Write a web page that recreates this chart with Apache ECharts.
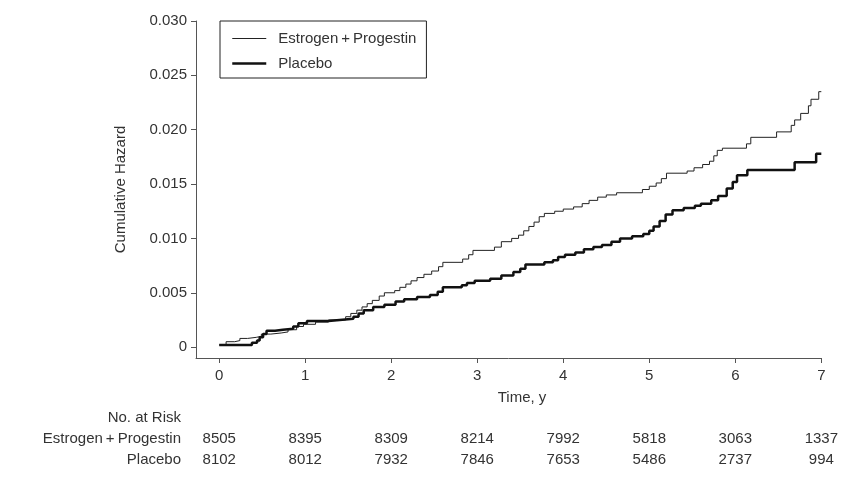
<!DOCTYPE html>
<html><head><meta charset="utf-8">
<script src="https://cdn.jsdelivr.net/npm/echarts@6/dist/echarts.min.js"></script>
<style>html,body{margin:0;padding:0;background:#fff}#c{width:841px;height:489px}</style>
</head><body><div id="c"></div>
<script>
const seriesNames = ['Estrogen\u2009+\u2009Progestin', 'Placebo'];
const timeTicks = [0, 1, 2, 3, 4, 5, 6, 7];
const hazardTicks = [0, 0.005, 0.010, 0.015, 0.020, 0.025, 0.030];
const riskEP = [8505, 8395, 8309, 8214, 7992, 5818, 3063, 1337];
const riskPlacebo = [8102, 8012, 7932, 7846, 7653, 5486, 2737, 994];

const epTime = [0,0.08,0.18,0.24,0.33,0.43,0.49,0.60,0.72,0.80,0.90,0.98,1.12,1.27,1.47,1.53,1.60,1.66,1.72,1.78,1.86,1.92,2.04,2.10,2.17,2.23,2.30,2.38,2.47,2.55,2.60,2.83,2.90,2.95,3.20,3.28,3.40,3.48,3.54,3.60,3.66,3.72,3.78,3.90,4.00,4.12,4.22,4.30,4.40,4.50,4.62,4.92,5.00,5.08,5.14,5.20,5.44,5.52,5.62,5.70,5.75,5.79,5.85,6.13,6.18,6.48,6.65,6.69,6.76,6.85,6.88,6.97,7.00];
const epHazard = [0.0002,0.0005,0.0006,0.0008,0.0009,0.0010,0.0012,0.0013,0.0014,0.0016,0.0019,0.0021,0.0023,0.0025,0.0028,0.0031,0.0034,0.0037,0.0040,0.0043,0.0047,0.0050,0.0052,0.0055,0.0058,0.0061,0.0064,0.0067,0.0070,0.0074,0.0078,0.0081,0.0085,0.0089,0.0092,0.0097,0.0100,0.0103,0.0107,0.0111,0.0115,0.0120,0.0123,0.0125,0.0127,0.0129,0.0132,0.0135,0.0138,0.0140,0.0142,0.0145,0.0148,0.0151,0.0155,0.0160,0.0162,0.0165,0.0168,0.0171,0.0176,0.0181,0.0183,0.0187,0.0193,0.0198,0.0204,0.0209,0.0215,0.0222,0.0228,0.0235,0.0235];

const plTime = [0,0.38,0.44,0.47,0.51,0.55,0.65,0.74,0.86,0.92,1.02,1.27,1.40,1.56,1.62,1.68,1.79,1.92,2.05,2.15,2.30,2.45,2.54,2.60,2.82,2.88,2.97,3.15,3.28,3.42,3.50,3.56,3.78,3.88,3.94,4.02,4.14,4.24,4.35,4.45,4.56,4.66,4.80,4.93,5.00,5.05,5.12,5.19,5.27,5.40,5.53,5.60,5.72,5.80,5.90,5.97,6.02,6.14,6.69,6.94,7.00];
const plHazard = [0.0002,0.0004,0.0006,0.0009,0.0012,0.0015,0.0016,0.0017,0.0019,0.0022,0.0024,0.0025,0.0026,0.0028,0.0031,0.0034,0.0037,0.0039,0.0042,0.0044,0.0046,0.0048,0.0051,0.0055,0.0057,0.0059,0.0061,0.0063,0.0066,0.0069,0.0072,0.0076,0.0078,0.0080,0.0083,0.0085,0.0087,0.0090,0.0092,0.0094,0.0097,0.0100,0.0102,0.0104,0.0107,0.0111,0.0116,0.0122,0.0126,0.0128,0.0130,0.0132,0.0135,0.0139,0.0146,0.0152,0.0158,0.0163,0.0170,0.0178,0.0178];

const FONT = "'Liberation Sans', Arial, sans-serif";
const TXT = '#333';
const AX = '#555';
const FS = 15;

function zip(a, b) { return a.map((t, i) => [t, b[i]]); }
function riskAxis(values, margin) {
  return {
    type: 'value', gridIndex: 0, position: 'bottom', min: -0.27, max: 7,
    axisLine: { show: false }, axisTick: { show: false }, splitLine: { show: false },
    axisLabel: {
      show: true, margin: margin, color: TXT, fontFamily: FONT, fontSize: FS,
      customValues: timeTicks,
      formatter: v => { const i = timeTicks.indexOf(Math.round(v)); return i < 0 ? '' : String(values[i]); }
    }
  };
}

const chart = echarts.init(document.getElementById('c'), null, { renderer: 'canvas' });
chart.setOption({
  animation: false,
  backgroundColor: '#fff',
  textStyle: { fontFamily: FONT, color: TXT },
  grid: { left: 196, right: 19, top: 21, bottom: 131, containLabel: false },
  legend: {
    orient: 'vertical', left: 220, top: 21,
    data: [
      { name: seriesNames[0], lineStyle: { width: 1, color: '#222' } },
      { name: seriesNames[1], lineStyle: { width: 2.5, color: '#111' } }
    ],
    itemStyle: { opacity: 0, borderWidth: 0 },
    borderColor: '#222', borderWidth: 1, borderRadius: 0,
    padding: [10, 10, 7, 11],
    itemWidth: 34, itemHeight: 14, itemGap: 10,
    textStyle: { color: TXT, fontFamily: FONT, fontSize: FS, padding: [0, 0, 0, 7] }
  },
  xAxis: [
    {
      type: 'value', gridIndex: 0, position: 'bottom', min: -0.27, max: 7,
      axisLine: { show: true, onZero: false, lineStyle: { color: AX, width: 1 } },
      axisTick: { show: true, length: 5, lineStyle: { color: AX }, customValues: timeTicks },
      axisLabel: { show: true, margin: 10, color: TXT, fontFamily: FONT, fontSize: FS, customValues: timeTicks,
        formatter: v => String(Math.round(v)) },
      splitLine: { show: false }
    },
    riskAxis(riskEP, 73),
    riskAxis(riskPlacebo, 94)
  ],
  yAxis: {
    type: 'value', min: -0.001, max: 0.030,
    name: 'Cumulative Hazard', nameLocation: 'middle', nameGap: 68, nameRotate: 90,
    nameTextStyle: { color: TXT, fontFamily: FONT, fontSize: FS },
    axisLine: { show: true, onZero: false, lineStyle: { color: AX, width: 1 } },
    axisTick: { show: true, length: 5, lineStyle: { color: AX }, customValues: hazardTicks },
    axisLabel: { show: true, margin: 9, color: TXT, fontFamily: FONT, fontSize: FS, customValues: hazardTicks,
      formatter: v => Math.abs(v) < 1e-9 ? '0' : v.toFixed(3) },
    splitLine: { show: false }
  },
  graphic: [
    { type: 'text', x: 522, y: 398, style: { text: 'Time, y', fill: TXT, font: FS + 'px ' + FONT, textAlign: 'center', textVerticalAlign: 'middle' } },
    { type: 'text', x: 181, y: 418, style: { text: 'No. at Risk', fill: TXT, font: FS + 'px ' + FONT, textAlign: 'right', textVerticalAlign: 'middle' } },
    { type: 'text', x: 181, y: 439, style: { text: seriesNames[0], fill: TXT, font: FS + 'px ' + FONT, textAlign: 'right', textVerticalAlign: 'middle' } },
    { type: 'text', x: 181, y: 460, style: { text: seriesNames[1], fill: TXT, font: FS + 'px ' + FONT, textAlign: 'right', textVerticalAlign: 'middle' } }
  ],
  series: [
    {
      name: seriesNames[0], type: 'line', step: 'end', xAxisIndex: 0,
      data: zip(epTime, epHazard), showSymbol: false, symbol: 'none',
      lineStyle: { color: '#222', width: 1 }, itemStyle: { color: '#222' }
    },
    {
      name: seriesNames[1], type: 'line', step: 'end', xAxisIndex: 0,
      data: zip(plTime, plHazard), showSymbol: false, symbol: 'none',
      lineStyle: { color: '#111', width: 2.5 }, itemStyle: { color: '#111' }
    }
  ]
});
</script>
</body></html>
